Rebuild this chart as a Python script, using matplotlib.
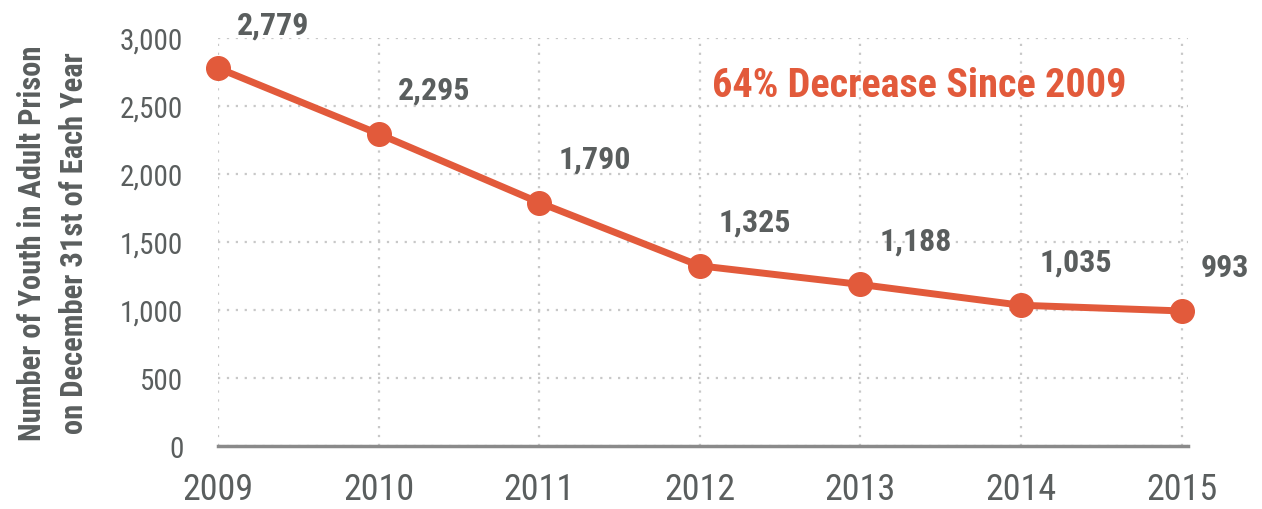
import matplotlib
matplotlib.use("Agg")
import matplotlib.pyplot as plt
from matplotlib import font_manager as fm

years = [2009, 2010, 2011, 2012, 2013, 2014, 2015]
values = [2779, 2295, 1790, 1325, 1188, 1035, 993]
value_labels = ["2,779", "2,295", "1,790", "1,325", "1,188", "1,035", "993"]
yticks = [0, 500, 1000, 1500, 2000, 2500, 3000]
ytick_labels = ["0", "500", "1,000", "1,500", "2,000", "2,500", "3,000"]
annotation = "64% Decrease Since 2009"
ylabel = "Number of Youth in Adult Prison\non December 31st of Each Year"

names = {f.name for f in fm.fontManager.ttflist}
cands = ["Roboto Condensed", "Liberation Sans Narrow", "DejaVu Sans Condensed", "DejaVu Sans"]
font = next(c for c in cands if c in names)
plt.rcParams['font.family'] = [font, 'DejaVu Sans']

ORANGE = "#E25A3B"
GRAY = "#5A5E5E"

fig = plt.figure(figsize=(12.62, 5.10), dpi=100)
ax = fig.add_axes([218/1262, 1-447/510, (1188-218)/1262, (447-39)/510])
ax.plot(years, values, color=ORANGE, lw=5, marker='o', ms=17, zorder=3, clip_on=False)
ax.set_xlim(2009, 2015.04)
ax.set_ylim(0, 3000)
ax.set_yticks(yticks)
ax.set_yticklabels(ytick_labels)
ax.set_xticks(years)
ax.set_xticklabels([str(y) for y in years])
ax.grid(True, color="#C8C8C8", linestyle=(0, (1, 3)), lw=1.6)
for s in ["top", "right", "left"]:
    ax.spines[s].set_visible(False)
ax.spines["bottom"].set_color("#8A8A8A")
ax.spines["bottom"].set_linewidth(2.5)
ax.tick_params(length=0)
ax.tick_params(axis='y', labelsize=21, labelcolor=GRAY, pad=25)
ax.tick_params(axis='x', labelsize=26, labelcolor=GRAY, pad=18)
ax.set_ylabel(ylabel, fontsize=22, fontweight='bold', color=GRAY, labelpad=22, linespacing=1.5)

for x, v, lab in zip(years, values, value_labels):
    ax.annotate(lab, (x, v), xytext=(19, 44), textcoords='offset pixels',
                ha='left', va='center', fontsize=23, fontweight='bold', color=GRAY)

ax.text(0.509, 0.885, annotation, transform=ax.transAxes, fontsize=29, fontweight='bold',
        color=ORANGE, ha='left', va='center')

fig.savefig("out.png", dpi=100)
